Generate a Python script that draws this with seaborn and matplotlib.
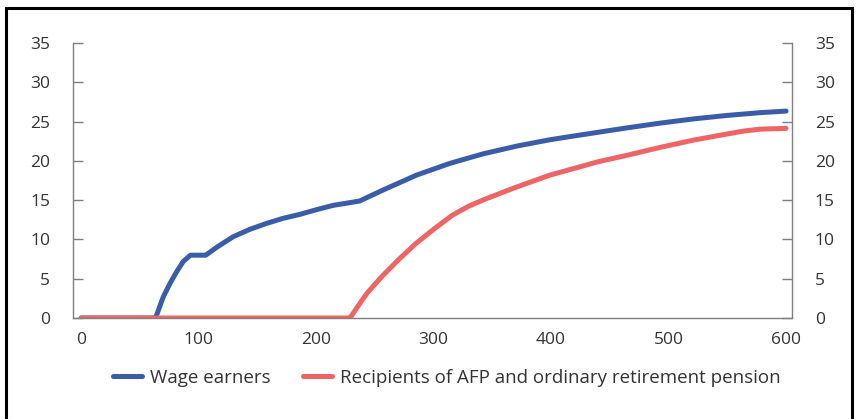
import matplotlib
matplotlib.use("Agg")
import matplotlib.pyplot as plt
import seaborn as sns
import pandas as pd
from matplotlib.patches import Rectangle

# Data
wage_x = [0, 63, 64.3, 69.9, 75.6, 81.3, 86.9, 93, 106, 115.3, 129.4, 143.7, 157.9,
          172, 186.2, 200.4, 214.6, 229, 237, 257, 285.5, 314, 342, 371, 399,
          416, 440, 464, 492, 521, 550, 578, 600]
wage_y = [0, 0, 0.4, 2.7, 4.4, 5.9, 7.2, 8.0, 8.0, 9.0, 10.35, 11.3, 12.05,
          12.7, 13.2, 13.8, 14.35, 14.7, 14.9, 16.3, 18.2, 19.7, 20.9, 21.9, 22.7,
          23.1, 23.65, 24.2, 24.8, 25.35, 25.8, 26.15, 26.35]
afp_x = [0, 228, 230, 236, 243, 250, 257, 271, 285, 300, 316, 330, 344, 371, 399,
         416, 440, 464, 492, 521, 543, 563.5, 578, 600]
afp_y = [0, 0, 0.25, 1.6, 3.1, 4.3, 5.45, 7.55, 9.5, 11.3, 13.1, 14.25, 15.15, 16.7,
         18.2, 18.9, 19.9, 20.7, 21.7, 22.65, 23.25, 23.8, 24.05, 24.15]
series_names = ["Wage earners", "Recipients of AFP and ordinary retirement pension"]
x_ticks = [0, 100, 200, 300, 400, 500, 600]
y_ticks = [0, 5, 10, 15, 20, 25, 30, 35]

df = pd.concat([
    pd.DataFrame({"x": wage_x, "y": wage_y, "series": series_names[0]}),
    pd.DataFrame({"x": afp_x, "y": afp_y, "series": series_names[1]}),
], ignore_index=True)

sns.set_style("white")
plt.rcParams["font.family"] = ["Open Sans", "DejaVu Sans"]
text_color = "#333333"
grey = "#7f7f7f"

fig = plt.figure(figsize=(8.58, 4.19), dpi=100)
ax = fig.add_axes([0.085, 0.241, 0.838, 0.656])

palette = {series_names[0]: "#3a5daa", series_names[1]: "#ef6566"}
sns.lineplot(data=df, x="x", y="y", hue="series", palette=palette, sort=False,
             linewidth=3.6, ax=ax, solid_capstyle="round", solid_joinstyle="round")

ax.set_xlim(-7, 605)
ax.set_ylim(0, 35)
ax.set_xticks(x_ticks)
ax.set_yticks(y_ticks)
ax.set_xlabel("")
ax.set_ylabel("")

for s in ["left", "right", "bottom"]:
    ax.spines[s].set_visible(True)
    ax.spines[s].set_color(grey)
    ax.spines[s].set_linewidth(1.0)
ax.spines["top"].set_visible(False)

ax.yaxis.set_ticks_position("both")
ax.tick_params(axis="y", which="both", direction="in", length=7, width=1.0,
               color=grey, labelsize=12.5, labelcolor=text_color, pad=16.5,
               left=True, right=True, labelleft=True, labelright=True)
ax.tick_params(axis="x", length=0, labelsize=12.5, labelcolor=text_color, pad=10)

handles, labels = ax.get_legend_handles_labels()
ax.legend(handles, labels, loc="center left", bbox_to_anchor=(0.123, 0.098),
          bbox_transform=fig.transFigure, borderaxespad=0,
          ncol=2, frameon=False, fontsize=13.5, handlelength=1.55,
          columnspacing=1.7, handletextpad=0.43, labelcolor=text_color)

fig.patches.append(Rectangle((6 / 858, -0.02), 846 / 858, 1.02 - 8 / 419,
                             transform=fig.transFigure, fill=False,
                             edgecolor="black", linewidth=2.2))

fig.savefig("out.png", dpi=100)
